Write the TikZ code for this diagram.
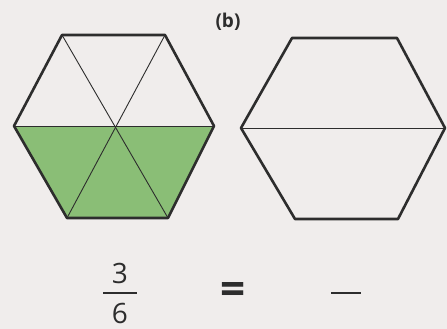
\documentclass[tikz,border=0pt]{standalone}
\usepackage{fontspec}
\setmainfont{Open Sans}
\definecolor{bg}{RGB}{240,237,236}
\definecolor{ink}{RGB}{45,45,45}
\definecolor{leaf}{RGB}{138,190,118}
\begin{document}
\begin{tikzpicture}[x=1pt,y=-1pt,
  outer/.style={draw=ink,line width=2.6pt,line join=round},
  inner/.style={draw=ink,line width=0.9pt},
  lbl/.style={text=ink,inner sep=0pt}]
\useasboundingbox (0,0) rectangle (447,329);
\fill[bg] (0,0) rectangle (447,329);
% left hexagon
\coordinate (a1) at (62,35);
\coordinate (a2) at (165,35);
\coordinate (a3) at (214,126);
\coordinate (a4) at (168,218);
\coordinate (a5) at (67,218);
\coordinate (a6) at (14,126);
\fill[leaf] (a6) -- (a3) -- (a4) -- (a5) -- cycle;
\draw[inner] (a1) -- (a4);
\draw[inner] (a2) -- (a5);
\draw[inner] (a6) -- (a3);
\draw[outer] (a1) -- (a2) -- (a3) -- (a4) -- (a5) -- (a6) -- cycle;
% right hexagon
\coordinate (b1) at (292,38);
\coordinate (b2) at (397,38);
\coordinate (b3) at (445,128);
\coordinate (b4) at (398,219);
\coordinate (b5) at (295,219);
\coordinate (b6) at (241,128);
\draw[inner] (b6) -- (b3);
\draw[outer] (b1) -- (b2) -- (b3) -- (b4) -- (b5) -- (b6) -- cycle;
% labels
\node[lbl,font=\bfseries\fontsize{19}{19}\selectfont] (lb) at (228,22) {(b)};
\node[lbl,font=\fontsize{28}{28}\selectfont] (n3) at (120,273) {3};
\node[lbl,font=\fontsize{28}{28}\selectfont] (n6) at (120,313) {6};
\coordinate (f1) at (103,293);
\coordinate (f2) at (137,293);
\draw[ink,line width=1.3pt] (f1) -- (f2);
\node[lbl,font=\bfseries\fontsize{44}{44}\selectfont] (eq) at (233,293) {=};
\coordinate (g1) at (331,293);
\coordinate (g2) at (361,293);
\draw[ink,line width=1.8pt] (g1) -- (g2);
\end{tikzpicture}
\end{document}
